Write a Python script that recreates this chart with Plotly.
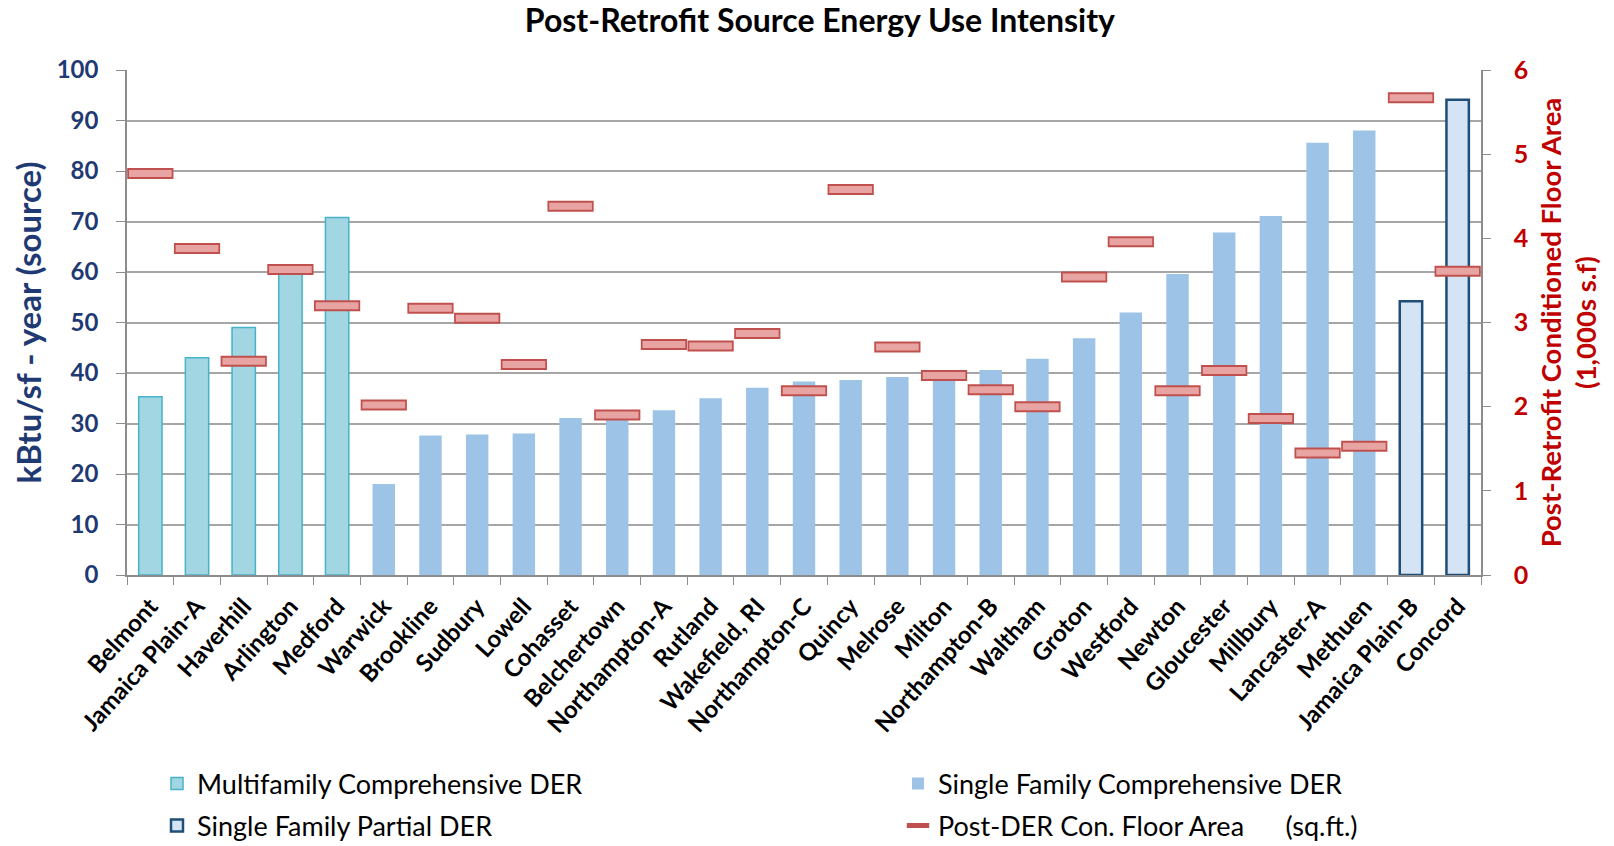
import plotly.graph_objects as go

categories = ["Belmont", "Jamaica Plain-A", "Haverhill", "Arlington", "Medford", "Warwick",
              "Brookline", "Sudbury", "Lowell", "Cohasset", "Belchertown", "Northampton-A",
              "Rutland", "Wakefield, RI", "Northampton-C", "Quincy", "Melrose", "Milton",
              "Northampton-B", "Waltham", "Groton", "Westford", "Newton", "Gloucester",
              "Millbury", "Lancaster-A", "Methuen", "Jamaica Plain-B", "Concord"]

# Source EUI (kBtu/sf-year) by group
multifamily_cats = ["Belmont", "Jamaica Plain-A", "Haverhill", "Arlington", "Medford"]
multifamily_eui = [35.3, 43.0, 49.0, 60.0, 70.8]

single_comp_cats = ["Warwick", "Brookline", "Sudbury", "Lowell", "Cohasset", "Belchertown",
                    "Northampton-A", "Rutland", "Wakefield, RI", "Northampton-C", "Quincy",
                    "Melrose", "Milton", "Northampton-B", "Waltham", "Groton", "Westford",
                    "Newton", "Gloucester", "Millbury", "Lancaster-A", "Methuen"]
single_comp_eui = [18.0, 27.6, 27.8, 28.0, 31.1, 31.0, 32.6, 35.0, 37.1, 38.3, 38.6,
                   39.2, 40.0, 40.6, 42.8, 46.9, 52.0, 59.6, 67.8, 71.1, 85.6, 88.0]

single_partial_cats = ["Jamaica Plain-B", "Concord"]
single_partial_eui = [54.2, 94.1]

# Post-DER conditioned floor area (1,000s sq.ft.)
floor_area = [4.77, 3.88, 2.54, 3.63, 3.20, 2.02, 3.17, 3.05, 2.50, 4.38, 1.90, 2.74,
              2.72, 2.87, 2.19, 4.58, 2.71, 2.37, 2.20, 2.00, 3.54, 3.96, 2.19, 2.43,
              1.86, 1.45, 1.53, 5.67, 3.61]

left_ticks = [0, 10, 20, 30, 40, 50, 60, 70, 80, 90, 100]
right_ticks = [0, 1, 2, 3, 4, 5, 6]

FONT = "Lato"
NAVY = "#1F3A73"
RED = "#C00000"
GRID = "#A6A6A6"
AXIS = "#8C8C8C"

fig = go.Figure()

fig.add_trace(go.Bar(
    x=multifamily_cats, y=multifamily_eui, name="Multifamily Comprehensive DER",
    marker=dict(color="#A3D6E3", line=dict(color="#46B3C8", width=1.5)),
    width=0.5, yaxis="y", legend="legend"))
fig.add_trace(go.Bar(
    x=single_comp_cats, y=single_comp_eui, name="Single Family Comprehensive DER",
    marker=dict(color="#9DC3E6", line=dict(width=0)),
    width=0.48, yaxis="y", legend="legend2"))
fig.add_trace(go.Bar(
    x=single_partial_cats, y=single_partial_eui, name="Single Family Partial DER",
    marker=dict(color="#D5E4F5", line=dict(color="#1F4E79", width=2.5)),
    width=0.48, yaxis="y", legend="legend3"))

fig.add_trace(go.Scatter(
    x=categories, y=floor_area, yaxis="y2", mode="markers", legend="legend4",
    name="Post-DER Con. Floor Area" + "\u00a0" * 6 + "(sq.ft.)",
    marker=dict(symbol="line-ew", size=33, color="#C0504D",
                line=dict(color="#C0504D", width=11)),
    hoverinfo="skip"))
fig.add_trace(go.Scatter(
    x=categories, y=floor_area, yaxis="y2", mode="markers", showlegend=False,
    marker=dict(symbol="line-ew", size=30.5, color="#E8A4A2",
                line=dict(color="#E8A4A2", width=7)),
    hoverinfo="skip"))

legend_font = dict(size=27, family=FONT, color="black")
row1_y = 1 - 784 / 846
row2_y = 1 - 826 / 846
col1_x = 157 / 1614
col2_x = 898 / 1614


def leg(x, y):
    return dict(xref="container", yref="container", x=x, y=y,
                xanchor="left", yanchor="middle", orientation="h",
                font=legend_font, bgcolor="rgba(0,0,0,0)", borderwidth=0)


fig.update_layout(
    width=1614, height=846,
    margin=dict(l=127, r=133, t=70, b=271, autoexpand=False),
    paper_bgcolor="white", plot_bgcolor="white",
    barmode="overlay",
    font=dict(family=FONT, color="black"),
    title=dict(text="<b>Post-Retrofit Source Energy Use Intensity</b>",
               x=0.508, xanchor="center", y=0.975, yanchor="middle",
               font=dict(size=32, family=FONT, color="black")),
    xaxis=dict(
        type="category", categoryorder="array", categoryarray=categories,
        range=[-0.5, len(categories) - 0.5],
        tickangle=-48, tickfont=dict(size=24, family=FONT, color="black", weight="bold"),
        showline=True, linecolor=AXIS, linewidth=1.5,
        ticks="outside", tickson="boundaries", ticklen=8, tickcolor=AXIS,
        ticklabelstandoff=6, showgrid=False),
    yaxis=dict(
        range=[0, 100], tickvals=left_ticks,
        tickfont=dict(size=24, family=FONT, color=NAVY, weight="bold"),
        showline=True, linecolor=AXIS, linewidth=1.5,
        ticks="outside", ticklen=9, tickcolor=AXIS, ticklabelstandoff=13,
        showgrid=True, gridcolor=GRID, gridwidth=1.5, zeroline=False,
        title=dict(text="<b>kBtu/sf - year (source)</b>", standoff=5,
                   font=dict(size=33, family=FONT, color=NAVY))),
    yaxis2=dict(
        range=[0, 6], tickvals=right_ticks, overlaying="y", side="right",
        tickfont=dict(size=25, family=FONT, color=RED, weight="bold"),
        showline=True, linecolor=AXIS, linewidth=1.5,
        ticks="outside", ticklen=8, tickcolor=AXIS, ticklabelstandoff=18,
        showgrid=False, zeroline=False,
        title=dict(text="<b>Post-Retrofit Conditioned Floor Area<br>(1,000s s.f)</b>",
                   standoff=14, font=dict(size=27.5, family=FONT, color=RED))),
    legend=leg(col1_x, row1_y),
    legend2=leg(col2_x, row1_y),
    legend3=leg(col1_x, row2_y),
    legend4=leg(col2_x, row2_y),
    showlegend=True,
)

fig.write_html("out.html", config={"displayModeBar": False},
               post_script="document.body.style.margin='0px';")
